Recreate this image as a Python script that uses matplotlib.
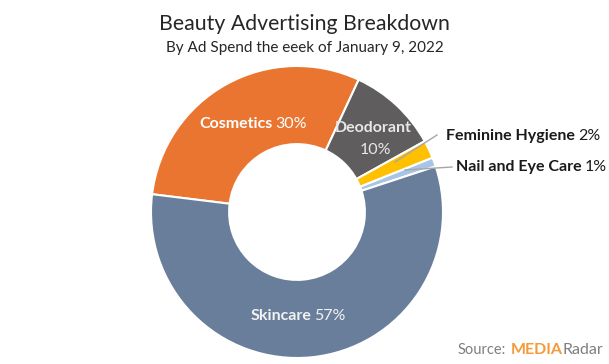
import matplotlib
matplotlib.use('Agg')
import matplotlib.pyplot as plt
from matplotlib.transforms import IdentityTransform

plt.rcParams['font.family'] = ['Lato', 'DejaVu Sans']

# slice order, clockwise from the left edge of Cosmetics
labels = ['Cosmetics', 'Deodorant', 'Feminine Hygiene', 'Nail and Eye Care', 'Skincare']
shares = [30, 10, 2, 1, 57]
colors = ['#E97530', '#5F5D5D', '#FFC000', '#A9C5E6', '#687E9B']

W, H = 609, 364
fig = plt.figure(figsize=(W / 100, H / 100), dpi=100)
fig.patch.set_facecolor('white')

# pie centre (297,212) px from top, radius 146 px
cx, cy, R = 297, 212, 146
ax = fig.add_axes([(cx - R) / W, (H - cy - R) / H, 2 * R / W, 2 * R / H])
ax.pie(shares, colors=colors, startangle=173, counterclock=False,
       radius=1, wedgeprops=dict(width=0.535, edgecolor='white', linewidth=1.5))
ax.set_xlim(-1, 1)
ax.set_ylim(-1, 1)
ax.set_aspect('equal')
ax.axis('off')

renderer = fig.canvas.get_renderer()
tr = IdentityTransform()


def px(x, y):
    return x, H - y


def two_part(x, y, bold, normal, color, size, ha='center', ncolor=None):
    if ncolor is None:
        ncolor = color
    t1 = fig.text(0, 0, bold, weight='bold', color=color, fontsize=size,
                  transform=tr, va='center', ha='left')
    t2 = fig.text(0, 0, normal, color=ncolor, fontsize=size,
                  transform=tr, va='center', ha='left')
    w1 = t1.get_window_extent(renderer).width
    w2 = t2.get_window_extent(renderer).width
    gap = size * 0.3
    tot = w1 + gap + w2
    x0 = x - tot / 2 if ha == 'center' else x
    X, Y = px(x0, y)
    t1.set_position((X, Y))
    t2.set_position((X + w1 + gap, Y))


# titles
fig.text(W / 2 / W, 1 - 24 / H, 'Beauty Advertising Breakdown', ha='center',
         va='center', fontsize=15.3, color='#262626')
fig.text(W / 2 / W, 1 - 48 / H, 'By Ad Spend the eeek of January 9, 2022',
         ha='center', va='center', fontsize=11, color='#262626')

# slice labels
two_part(253, 124, 'Cosmetics', '30%', 'white', 11.5)
fig.text(*px(373, 128), 'Deodorant', transform=tr, weight='bold', color='#E8E8E8',
         fontsize=11.5, ha='center', va='center')
fig.text(*px(375, 150), '10%', transform=tr, color='#E8E8E8',
         fontsize=11.5, ha='center', va='center')
two_part(298, 316, 'Skincare', '57%', '#F2F2F2', 11.5)
two_part(446, 136, 'Feminine Hygiene', '2%', '#1A1A1A', 11.5, ha='left')
two_part(456, 167, 'Nail and Eye Care', '1%', '#1A1A1A', 11.5, ha='left')

# leader lines
fig.add_artist(plt.Line2D([437 / W, 395 / W], [1 - 135 / H, 1 - 162 / H],
                          color='#A6A6A6', lw=1))
fig.add_artist(plt.Line2D([452 / W, 405 / W], [1 - 167 / H, 1 - 170 / H],
                          color='#A6A6A6', lw=1))

# source
t = fig.text(*px(458, 350), 'Source:', transform=tr, color='#7F7F7F',
             fontsize=10.5, ha='left', va='center')
w = t.get_window_extent(renderer).width
t = fig.text(*px(458 + w + 4, 350), 'MEDIA', transform=tr, color='#F39A3A',
             fontsize=11.5, weight='bold', ha='left', va='center')
w2 = t.get_window_extent(renderer).width
fig.text(*px(458 + w + 4 + w2, 350), 'Radar', transform=tr, color='#7F7F7F',
         fontsize=11.5, ha='left', va='center')

fig.savefig('out.png', dpi=100)
